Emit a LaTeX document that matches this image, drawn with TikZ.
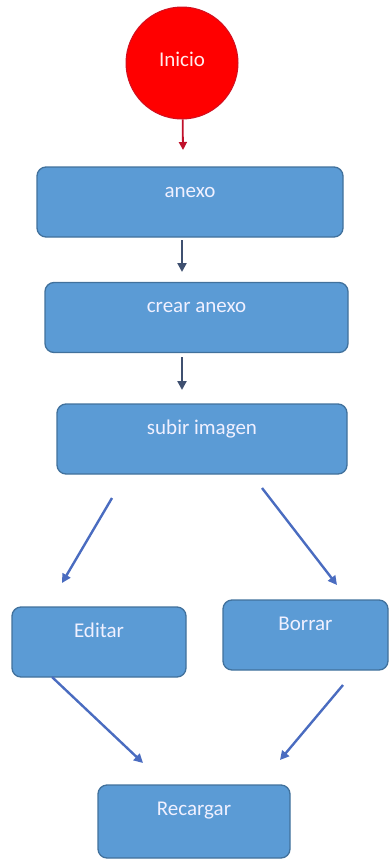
\documentclass[tikz,border=0pt]{standalone}
\usepackage{fontspec}
\setmainfont{Carlito}
\usepackage{tikz}
\usetikzlibrary{arrows.meta}

\definecolor{cajaazul}{HTML}{5B9BD5}
\definecolor{bordeazul}{HTML}{41719C}
\definecolor{flechaazul}{HTML}{4A6CC0}
\definecolor{flechagris}{HTML}{3F5070}
\definecolor{rojoinicio}{HTML}{FF0000}
\definecolor{rojoborde}{HTML}{D01020}
\definecolor{rojoflecha}{HTML}{C0102A}

\tikzset{
    paso/.style={rectangle, rounded corners=9pt, draw=bordeazul, line width=1.3pt,
        fill=cajaazul, text=white!94!blue, inner sep=0pt,
        text height=30pt, text depth=40pt, font=\fontsize{21}{25}\selectfont},
    flecha/.style={line width=2.4pt, -{Triangle[length=9pt,width=9pt]}},
}

\begin{document}
\begin{tikzpicture}[x=1pt,y=-1pt]
    \useasboundingbox (0,0) rectangle (389,860);
    \node[circle, minimum size=112pt, inner sep=0pt, fill=rojoinicio, draw=rojoborde, line width=1pt,
        text=white!92!red, font=\fontsize{21}{25}\selectfont] (inicio) at (182,63) {\raisebox{8pt}{Inicio}};
    \node[paso, minimum width=306pt] (anexo) at (190,202) {anexo};
    \node[paso, minimum width=303pt] (crear) at (196.5,317.5) {crear anexo};
    \node[paso, minimum width=290pt] (subir) at (202,439) {subir imagen};
    \node[paso, minimum width=174pt] (editar) at (99,642) {Editar};
    \node[paso, minimum width=165pt] (borrar) at (305.5,635) {Borrar};
    \node[paso, minimum width=192pt, text depth=43pt] (recargar) at (194,821.5) {Recargar};
    % extremos sueltos de las flechas
    \coordinate (r1) at (183,150);
    \coordinate (a1) at (182,240); \coordinate (b1) at (182,272);
    \coordinate (a2) at (182,357); \coordinate (b2) at (182,390);
    \coordinate (a3) at (112,498); \coordinate (b3) at (62,583);
    \coordinate (a4) at (262,488); \coordinate (b4) at (337,585);
    \coordinate (a5) at (52,677);  \coordinate (b5) at (143,763);
    \coordinate (a6) at (343,685); \coordinate (b6) at (280,760);
    \draw[flecha, rojoflecha, line width=1.8pt, -{Triangle[length=8pt,width=8pt]}] (inicio) -- (r1);
    \draw[flecha, flechagris] (a1) -- (b1);
    \draw[flecha, flechagris] (a2) -- (b2);
    \draw[flecha, flechaazul] (a3) -- (b3);
    \draw[flecha, flechaazul] (a4) -- (b4);
    \draw[flecha, flechaazul] (a5) -- (b5);
    \draw[flecha, flechaazul] (a6) -- (b6);
\end{tikzpicture}
\end{document}
